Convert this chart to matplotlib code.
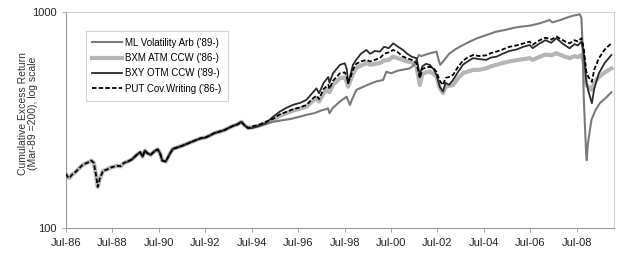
import matplotlib
matplotlib.use("Agg")
import matplotlib.pyplot as plt
from matplotlib.ticker import FixedLocator, NullLocator

plt.rcParams['font.family'] = ['Liberation Sans', 'DejaVu Sans']

# Data (decimal years, index level)
# shared path before mid-1994, where all the lines overlap
early_dates = [1986.50, 1986.58, 1986.65, 1986.75, 1986.90, 1987.05, 1987.20, 1987.35,
               1987.50, 1987.60, 1987.70, 1987.80, 1987.87, 1987.95, 1988.10, 1988.25,
               1988.40, 1988.55, 1988.70, 1988.85, 1989.00, 1989.17, 1989.35, 1989.55,
               1989.70, 1989.80, 1989.90, 1990.00, 1990.15, 1990.30, 1990.45, 1990.55,
               1990.65, 1990.80, 1990.95, 1991.10, 1991.30, 1991.50, 1991.70, 1991.90,
               1992.10, 1992.30, 1992.50, 1992.70, 1992.90, 1993.10, 1993.30, 1993.50,
               1993.70, 1993.90, 1994.05, 1994.20, 1994.35]
early_vals = [178, 172, 170, 176, 181, 188, 195, 199,
              202, 205, 200, 175, 155, 168, 184, 186,
              190, 192, 194, 193, 200, 203, 208, 218,
              224, 214, 228, 222, 218, 226, 231, 222,
              205, 203, 218, 232, 236, 240, 245, 250,
              255, 260, 262, 268, 275, 279, 283, 290,
              297, 302, 310, 298, 290]

late_dates = [1994.50, 1994.80, 1995.10, 1995.42, 1995.70, 1996.00, 1996.30, 1996.60,
              1996.86, 1997.10, 1997.29, 1997.40, 1997.60, 1997.80, 1997.85, 1998.00,
              1998.30, 1998.51, 1998.60, 1998.65, 1998.75, 1998.86, 1999.00, 1999.20,
              1999.44, 1999.60, 1999.80, 2000.02, 2000.20, 2000.40, 2000.60, 2000.80,
              2001.02, 2001.20, 2001.40, 2001.60, 2001.74, 2001.85, 2002.00, 2002.17,
              2002.35, 2002.46, 2002.60, 2002.74, 2002.85, 2003.00, 2003.17, 2003.40,
              2003.60, 2003.80, 2004.03, 2004.30, 2004.60, 2004.80, 2005.04, 2005.30,
              2005.60, 2005.90, 2006.20, 2006.47, 2006.60, 2006.90, 2007.15, 2007.40,
              2007.62, 2007.85, 2008.00, 2008.19, 2008.40, 2008.55, 2008.70, 2008.80,
              2008.91, 2009.00, 2009.15, 2009.25, 2009.45, 2009.70, 2009.99]

bxy_late = [290, 296, 305, 327, 345, 360, 372, 380,
            392, 420, 443, 420, 470, 500, 470, 520,
            569, 579, 540, 468, 510, 569, 600, 640,
            667, 640, 660, 655, 690, 680, 716, 690,
            667, 640, 620, 611, 511, 560, 575, 569,
            540, 511, 450, 428, 470, 460, 484, 530,
            570, 590, 611, 605, 600, 615, 621, 640,
            660, 670, 690, 703, 680, 715, 740, 720,
            756, 720, 700, 679, 710, 700, 729, 650,
            475, 430, 378, 440, 520, 580, 632]

put_late = [295, 300, 310, 320, 335, 345, 355, 362,
            371, 395, 410, 395, 440, 460, 440, 480,
            520, 525, 500, 468, 495, 540, 575, 590,
            600, 590, 600, 611, 640, 650, 667, 650,
            621, 610, 600, 580, 493, 545, 552, 558,
            545, 529, 480, 459, 495, 500, 511, 560,
            595, 615, 632, 625, 630, 645, 655, 670,
            690, 700, 715, 729, 705, 740, 760, 745,
            769, 745, 730, 716, 740, 730, 756, 680,
            529, 500, 475, 540, 610, 670, 716]

bxm_late = [292, 297, 305, 316, 330, 340, 350, 357,
            364, 385, 398, 385, 420, 440, 425, 460,
            493, 498, 470, 451, 480, 515, 550, 565,
            579, 570, 575, 580, 595, 600, 621, 610,
            600, 590, 585, 560, 459, 515, 525, 529,
            515, 502, 445, 421, 450, 455, 459, 495,
            520, 530, 539, 540, 548, 560, 569, 580,
            590, 598, 605, 611, 600, 620, 635, 630,
            644, 630, 620, 611, 625, 618, 632, 590,
            459, 450, 436, 470, 500, 525, 548]

va_dates = [1994.50, 1994.80, 1995.10, 1995.42, 1995.80, 1996.20, 1996.60, 1996.86,
            1997.20, 1997.50, 1997.70, 1997.79, 1997.85, 1998.00, 1998.30, 1998.58,
            1998.65, 1998.73, 1998.85, 1999.01, 1999.30, 1999.60, 1999.90, 2000.16,
            2000.30, 2000.50, 2000.80, 2001.00, 2001.31, 2001.50, 2001.60, 2001.70,
            2001.80, 2002.10, 2002.46, 2002.55, 2002.62, 2002.80, 2003.00, 2003.30,
            2003.60, 2003.90, 2004.20, 2004.50, 2004.80, 2005.04, 2005.40, 2005.80,
            2006.10, 2006.47, 2006.80, 2007.10, 2007.33, 2007.45, 2007.60, 2007.80,
            2008.05, 2008.34, 2008.63, 2008.70, 2008.75, 2008.80, 2008.85, 2008.90,
            2008.93, 2008.97, 2009.00, 2009.13, 2009.30, 2009.49, 2009.75, 2009.99]
va_late = [292, 298, 303, 310, 315, 320, 328, 334,
           340, 350, 355, 358, 340, 360, 385, 405,
           390, 371, 400, 436, 450, 465, 478, 484,
           529, 520, 535, 540, 548, 570, 600, 632,
           625, 640, 655, 600, 569, 600, 640, 675,
           703, 730, 755, 775, 795, 811, 825, 845,
           855, 864, 880, 900, 918, 895, 905, 918,
           940, 961, 975, 940, 700, 400, 300, 225,
           206, 240, 255, 316, 350, 378, 400, 425]

start_89 = early_dates.index(1989.17)

tick_pos = [1986.5 + 2 * i for i in range(12)]
tick_labels = ['Jul-86', 'Jul-88', 'Jul-90', 'Jul-92', 'Jul-94', 'Jul-96',
               'Jul-98', 'Jul-00', 'Jul-02', 'Jul-04', 'Jul-06', 'Jul-08']

fig = plt.figure(figsize=(6.4, 2.72), dpi=100)
ax = fig.add_axes([0.103, 0.162, 0.857, 0.794])

ax.plot(early_dates + late_dates, early_vals + bxm_late, color='#b5b5b5', lw=3.0,
        label="BXM ATM CCW ('86-)", zorder=2)
ax.plot(early_dates[start_89:] + va_dates, early_vals[start_89:] + va_late, color='#7a7a7a',
        lw=1.5, label="ML Volatility Arb ('89-)", zorder=3)
ax.plot(early_dates[start_89:] + late_dates, early_vals[start_89:] + bxy_late, color='#2a2a2a',
        lw=1.3, label="BXY OTM CCW ('89-)", zorder=4)
ax.plot(early_dates + late_dates, early_vals + put_late, color='black', lw=1.3,
        dashes=(2.5, 1.2), label="PUT Cov.Writing ('86-)", zorder=5)

ax.set_yscale('log')
ax.set_ylim(100, 1000)
ax.yaxis.set_major_locator(FixedLocator([100, 1000]))
ax.yaxis.set_minor_locator(NullLocator())
ax.set_yticklabels(['100', '1000'])
ax.set_xlim(1986.5, 2010.12)
ax.set_xticks(tick_pos)
ax.set_xticklabels(tick_labels)

ax.tick_params(axis='both', labelsize=8, colors='#222222', length=3, width=0.6)
ax.tick_params(axis='x', color='#999999', pad=4)
ax.tick_params(axis='y', color='#999999')
for side in ['left', 'bottom']:
    ax.spines[side].set_color('#999999')
    ax.spines[side].set_linewidth(0.8)
for side in ['top', 'right']:
    ax.spines[side].set_color('#d0d0d0')
    ax.spines[side].set_linewidth(0.8)

ax.set_ylabel('Cumulative Excess Return\n(Mar-89 =200), log scale', fontsize=7.5,
              color='#333333', linespacing=1.1)
ax.yaxis.set_label_coords(-0.05, 0.53)

# legend order as in the picture
h, l = ax.get_legend_handles_labels()
order = [1, 0, 2, 3]
leg = ax.legend([h[i] for i in order], [l[i] for i in order], loc='upper left',
                bbox_to_anchor=(0.036, 0.912), borderaxespad=0, fontsize=7,
                frameon=True, fancybox=False, edgecolor='#c8c8c8', handlelength=3.0,
                handletextpad=0.3, labelspacing=0.55, borderpad=0.7)
leg.get_frame().set_linewidth(0.8)

fig.savefig('out.png', dpi=100)
